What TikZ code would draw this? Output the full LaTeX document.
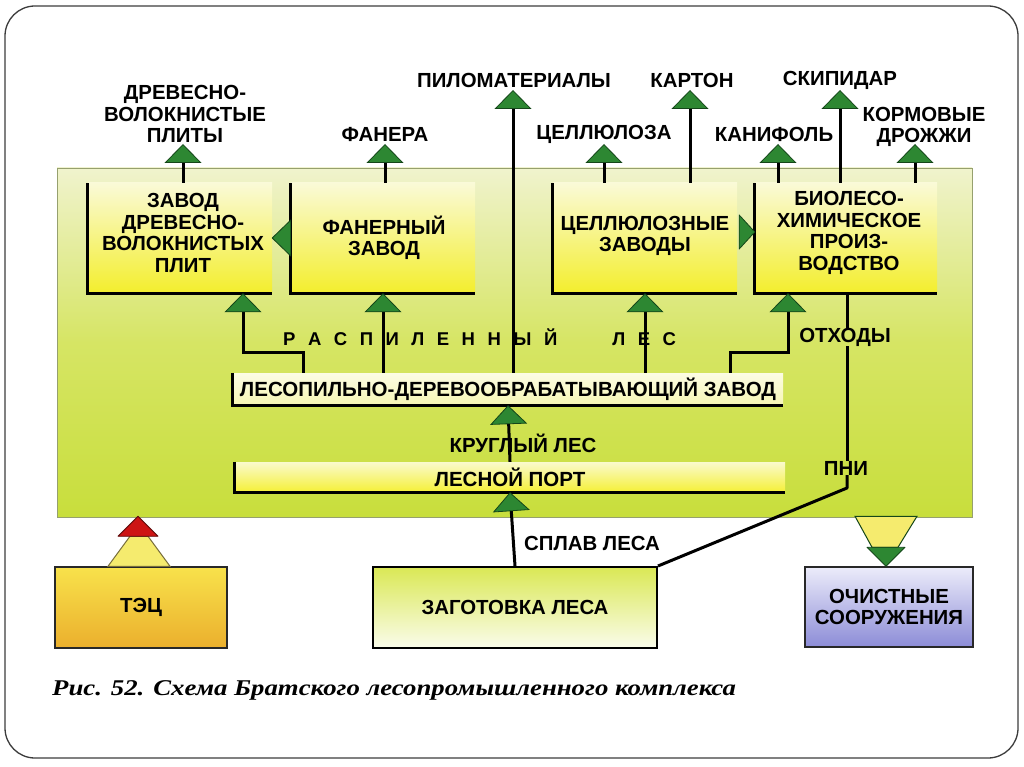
\documentclass[tikz,border=0pt]{standalone}
\usepackage{fontspec}
\usepackage{graphicx}
\setmainfont{Liberation Sans}
\newfontfamily\capfont{Liberation Serif}
\usetikzlibrary{arrows.meta,calc}
\definecolor{agreen}{RGB}{45,135,50}
\definecolor{adark}{RGB}{20,70,25}
\definecolor{panelT}{RGB}{240,243,205}
\definecolor{panelM}{RGB}{214,229,100}
\definecolor{panelB}{RGB}{200,222,60}
\definecolor{panelE}{RGB}{150,160,110}
\definecolor{boxT}{RGB}{250,250,215}
\definecolor{boxB}{RGB}{243,238,45}
\definecolor{lesT}{RGB}{252,252,228}
\definecolor{lesB}{RGB}{246,246,180}
\definecolor{portT}{RGB}{250,250,205}
\definecolor{portB}{RGB}{245,240,55}
\definecolor{tecT}{RGB}{248,226,75}
\definecolor{tecB}{RGB}{235,175,45}
\definecolor{zagT}{RGB}{218,232,85}
\definecolor{zagB}{RGB}{250,252,235}
\definecolor{ochT}{RGB}{236,236,250}
\definecolor{ochB}{RGB}{140,140,215}
\definecolor{funY}{RGB}{245,235,110}
\definecolor{funE}{RGB}{120,110,60}
\definecolor{redT}{RGB}{205,20,20}
\definecolor{redE}{RGB}{90,10,10}
\definecolor{frameC}{RGB}{60,60,60}
\definecolor{boxE}{RGB}{40,40,40}
\begin{document}
\begin{tikzpicture}[x=1pt,y=-1pt,
  txt/.style={font=\fontsize{20.4}{21.5}\selectfont\bfseries, align=center, inner sep=0pt},
  small/.style={font=\fontsize{20.4}{21.5}\selectfont\bfseries, align=center, inner sep=0pt},
  factory/.style={top color=boxT, bottom color=boxB, minimum width=184, minimum height=110, inner sep=0pt},
  bar/.style={font=\fontsize{20.5}{21.5}\selectfont\bfseries, inner sep=0pt, minimum width=550},
  bottombox/.style={txt, draw=boxE, line width=1.5pt},
  shaft/.style={line width=3pt, draw=black},
  garrow/.style={shaft, -{Triangle[width=37pt,length=19pt,fill=agreen,color=adark,line width=0.8pt]}},
  tri/.style={fill=agreen, draw=adark, line width=0.8pt, line join=round},
  funnel/.style={fill=funY, line width=1pt},
]
\useasboundingbox (0,0) rectangle (1024,767);
\fill[white] (0,0) rectangle (1024,767);
\draw[rounded corners=30pt, draw=frameC, line width=1.3pt] (5,6) rectangle (1018,758);

% panel
\node[draw=panelE, line width=0.8pt, top color=panelT, bottom color=panelB, middle color=panelM,
      minimum width=915, minimum height=349, inner sep=0pt] (panel) at (514.5,342.5) {};

% factories
\node[factory] (b1) at (180,238) {};
\node[factory] (b2) at (383,238) {};
\node[factory] (b3) at (645,238) {};
\node[factory, minimum width=182] (b4) at (846,238) {};
\foreach \b in {b1,b2,b3,b4} \draw[shaft] (\b.north west) -- (\b.south west) -- (\b.south east);
\node[txt] (b1t) at (183,233) {ЗАВОД\\ДРЕВЕСНО-\\ВОЛОКНИСТЫХ\\ПЛИТ};
\node[txt] (b2t) at (384,238) {ФАНЕРНЫЙ\\ЗАВОД};
\node[txt] (b3t) at (645,236) {ЦЕЛЛЮЛОЗНЫЕ\\ЗАВОДЫ};
\node[txt] (b4t) at (849,233) {БИОЛЕСО-\\ХИМИЧЕСКОЕ\\ПРОИЗ-\\ВОДСТВО};

% bars
\node[bar, minimum height=32, top color=lesT, bottom color=lesB] (les) at (508,389) {ЛЕСОПИЛЬНО-ДЕРЕВООБРАБАТЫВАЮЩИЙ ЗАВОД};
\node[bar, minimum height=30, top color=portT, bottom color=portB] (port) at (510,477) {ЛЕСНОЙ ПОРТ};
\foreach \b in {les,port} \draw[shaft] (\b.north west) -- (\b.south west) -- (\b.south east);

% bottom boxes
\node[bottombox, top color=tecT, bottom color=tecB, minimum width=172, minimum height=81] (tec) at (141,607.5) {ТЭЦ};
\node[bottombox, draw=black, line width=2pt, top color=zagT, bottom color=zagB, minimum width=284, minimum height=81] (zag) at (515,607.5) {ЗАГОТОВКА ЛЕСА};
\node[bottombox, top color=ochT, bottom color=ochB, minimum width=168, minimum height=80] (och) at (889,607) {ОЧИСТНЫЕ\\СООРУЖЕНИЯ};

% output labels
\node[txt] (t1) at (185,114) {ДРЕВЕСНО-\\ВОЛОКНИСТЫЕ\\ПЛИТЫ};
\node[txt] (t2) at (385,134) {ФАНЕРА};
\node[txt] (t3) at (514,80) {ПИЛОМАТЕРИАЛЫ};
\node[txt] (t4) at (604,134) {ЦЕЛЛЮЛОЗА};
\node[txt] (t5) at (692,80) {КАРТОН};
\node[txt] (t6) at (774,134) {КАНИФОЛЬ};
\node[txt] (t7) at (840,80) {СКИПИДАР};
\node[txt] (t8) at (924,127) {КОРМОВЫЕ\\ДРОЖЖИ};

% tips of output arrows
\coordinate (o1) at (183,144);
\coordinate (o2) at (385,144);
\coordinate (o3) at (513,90);
\coordinate (o4) at (604,144);
\coordinate (o5) at (690,90);
\coordinate (o6) at (778,144);
\coordinate (o7) at (840,90);
\coordinate (o8) at (915,144);

% in-panel labels
\def\g{\hspace{12.5pt}}
\node[inner sep=0pt, font=\fontsize{18.5}{20}\selectfont\bfseries, anchor=west] (rasp) at (283,337) {Р\g А\g С\g П\g И\g Л\g Е\g Н\g Н\g Ы\g Й\hspace{55pt}Л\g Е\g С};
\node[small] (otx) at (845,337) {ОТХОДЫ};
\node[small] (krug) at (523,443) {КРУГЛЫЙ ЛЕС};
\node[small] (pni) at (846,468) {ПНИ};
\node[small] (splav) at (592,543) {СПЛАВ ЛЕСА};

% corner points of the bent connectors
\coordinate (c1a) at (303,352);
\coordinate (c1b) at (243,352);
\coordinate (c4a) at (730,352);
\coordinate (c4b) at (788,352);
\coordinate (c5) at (847,488);

% outputs
\draw[garrow] (b1.north -| o1) -- (o1);
\draw[garrow] (b2.north -| o2) -- (o2);
\draw[garrow] (les.north -| o3) -- (o3);
\draw[garrow] (b3.north -| o4) -- (o4);
\draw[garrow] (b3.north -| o5) -- (o5);
\draw[garrow] (b4.north -| o6) -- (o6);
\draw[garrow] (b4.north -| o7) -- (o7);
\draw[garrow] (b4.north -| o8) -- (o8);

% sawn timber to factories
\draw[garrow] (les.north -| c1a) -- (c1a) -- (c1b) -- (b1.south -| c1b);
\draw[garrow] (les.north -| b2.south) -- (b2.south);
\draw[garrow] (les.north -| b3.south) -- (b3.south);
\draw[garrow] (les.north -| c4a) -- (c4a) -- (c4b) -- (b4.south -| c4b);

% round timber, rafting
\draw[garrow] (port.north) -- (les.south);
\draw[garrow] (zag.north) -- (port.south);

% stumps / waste line
\draw[shaft] (b4.south -| c5) -- (otx.north -| c5);
\draw[shaft] (otx.south -| c5) -- (pni.north -| c5);
\draw[shaft, line join=round] (pni.south -| c5) -- (c5) -- (zag.north east);

% side triangles between factories
\filldraw[tri] (b1.east) -- ($(b2.west)+(0,-18)$) -- ($(b2.west)+(0,18)$) -- cycle;
\filldraw[tri] ($(b4.west)+(0,-6)$) -- ($(b3.east)+(2,-23)$) -- ($(b3.east)+(2,11)$) -- cycle;

% TEC funnel
\filldraw[funnel, draw=funE] ($(tec.north)+(-33,0)$) -- ($(tec.north)+(-11,-30)$) -- ($(tec.north)+(7,-30)$) -- ($(tec.north)+(29,0)$) -- cycle;
\filldraw[fill=redT, draw=redE, line width=0.8pt, line join=round] ($(tec.north)+(-23,-30)$) -- ($(tec.north)+(-3,-50)$) -- ($(tec.north)+(17,-30)$) -- cycle;

% treatment funnel
\filldraw[funnel, draw=adark] ($(och.north)+(-34,-50)$) -- ($(och.north)+(-17,-19)$) -- ($(och.north)+(9,-19)$) -- ($(och.north)+(28,-50)$) -- cycle;
\filldraw[tri] ($(och.north)+(-22,-19)$) -- ($(och.north)+(-3,0)$) -- ($(och.north)+(16,-19)$) -- cycle;

% caption
\node[anchor=west, inner sep=0pt, font=\capfont\bfseries\itshape\fontsize{22.5}{24}\selectfont] (cap) at (52,690) {\scalebox{1.19}[1]{Рис. 52. Схема Братского лесопромышленного комплекса}};
\end{tikzpicture}
\end{document}
